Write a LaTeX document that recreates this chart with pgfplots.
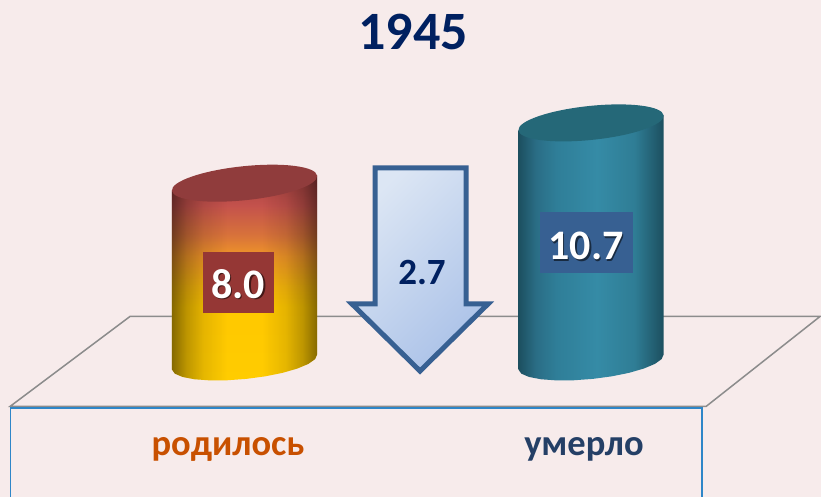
\documentclass[border=0pt]{standalone}
\usepackage{fontspec}
\setmainfont{Carlito}
\usepackage{pgfplots}
\pgfplotsset{compat=1.18}
\usetikzlibrary{fadings}

\definecolor{bgpink}{HTML}{F7EBEB}
\definecolor{navy}{HTML}{002060}
\definecolor{boxred}{HTML}{953735}
\definecolor{boxblue}{HTML}{376092}
\definecolor{lineblue}{HTML}{2E86C8}
\definecolor{linegray}{HTML}{8C8C8C}
\definecolor{rodorange}{HTML}{C85000}
\definecolor{umerblue}{HTML}{243F66}
\definecolor{topred}{HTML}{903C3C}
\definecolor{topteal}{HTML}{256878}
\definecolor{arrowlight}{HTML}{DCE6F4}
\definecolor{arrowdark}{HTML}{ABC2E8}

\definecolor{ly1}{HTML}{FFCC00}
\definecolor{ly2}{HTML}{FFC800}
\definecolor{ly3}{HTML}{F9B80C}
\definecolor{ly4}{HTML}{EF9428}
\definecolor{ly5}{HTML}{D8733A}
\definecolor{ly6}{HTML}{C4524C}
\definecolor{ly7}{HTML}{A34040}
\definecolor{rt1}{HTML}{1C4F5F}
\definecolor{rt2}{HTML}{2A6D85}
\definecolor{rt3}{HTML}{2F7E98}
\definecolor{rt4}{HTML}{358BA6}
\definecolor{rt5}{HTML}{2F7D95}

% 25bp..75bp of these shadings are the bounding box of the filled path
\pgfdeclareverticalshading{leftcyl}{100bp}{
  color(0bp)=(ly1);
  color(25bp)=(ly1);
  color(43bp)=(ly2);
  color(48bp)=(ly3);
  color(55.5bp)=(ly4);
  color(60.4bp)=(ly5);
  color(67.7bp)=(ly6);
  color(75bp)=(ly7);
  color(100bp)=(ly7)}
\pgfdeclarehorizontalshading{rightcyl}{100bp}{
  color(0bp)=(rt1);
  color(25bp)=(rt1);
  color(31bp)=(rt2);
  color(38bp)=(rt3);
  color(52bp)=(rt4);
  color(65bp)=(rt5);
  color(75bp)=(rt1);
  color(100bp)=(rt1)}
\pgfdeclarehorizontalshading{sideshade}{100bp}{
  color(0bp)=(pgftransparent!52);
  color(25bp)=(pgftransparent!52);
  color(30bp)=(pgftransparent!74);
  color(36bp)=(pgftransparent!90);
  color(44bp)=(pgftransparent!100);
  color(56bp)=(pgftransparent!100);
  color(64bp)=(pgftransparent!90);
  color(70bp)=(pgftransparent!74);
  color(75bp)=(pgftransparent!52);
  color(100bp)=(pgftransparent!52)}
\pgfdeclarefading{sidefade}{\pgfuseshading{sideshade}}

\pgfplotstableread{
x y
171.9 7.664
244.5 8.0
317.1 8.336
317.1 0.336
315.1 0.128
308.3 -0.087
297.1 -0.297
282.3 -0.487
265.0 -0.643
246.25 -0.756
227.4 -0.817
209.7 -0.823
194.4 -0.772
182.5 -0.669
174.8 -0.520
171.9 -0.336
}\rodilos
\pgfplotstableread{
x y
518.4 10.364
591.0 10.7
663.6 11.036
663.6 0.336
661.6 0.128
654.8 -0.087
643.6 -0.297
628.8 -0.487
611.5 -0.643
592.75 -0.756
573.9 -0.817
556.2 -0.823
540.9 -0.772
529.0 -0.669
521.3 -0.520
518.4 -0.336
}\umerlo

\begin{document}
\begin{tikzpicture}[x=1pt,y=1pt]
\path[use as bounding box,fill=bgpink] (0,0) rectangle (821,497);

% platform behind the cylinders
\begin{scope}[y=-1pt,yshift=497pt]
  \draw[linegray,line width=1.5pt] (10,406.5) -- (130,316.5) -- (820,316.5) -- (706,406.5) -- cycle;
  \draw[lineblue,line width=1.2pt] (10.5,497) -- (10.5,408) -- (702,408) -- (702,497);
\end{scope}

\begin{axis}[
    at={(0,0)},anchor=south west,
    width=821pt,height=497pt,
    scale only axis,
    hide axis,
    xmin=0,xmax=821,
    ymin=-6.040,ymax=16.197,
]
\addplot[draw=none,shade,shading=leftcyl] table {\rodilos};
\addplot[draw=none,fill=black,path fading=sidefade] table {\rodilos};
\addplot[draw=none,shade,shading=rightcyl] table {\umerlo};
\end{axis}

\begin{scope}[y=-1pt,yshift=497pt]
  % cylinder tops
  \fill[topred,rotate around={5.9:(244.5,183.2)}] (244.5,183.2) ellipse [x radius=73,y radius=17];
  \fill[topteal,rotate around={5.9:(591,122.9)}] (591,122.9) ellipse [x radius=73,y radius=17];

  % value boxes
  \fill[boxred] (203,252) rectangle (274,313);
  \fill[boxblue] (540,212) rectangle (633,273);
  \node[black,opacity=.55,font=\bfseries\fontsize{42}{42}\selectfont] at (239.5,285.5) {8.0};
  \node[white,font=\bfseries\fontsize{42}{42}\selectfont] at (238,284) {8.0};
  \node[black,opacity=.55,font=\bfseries\fontsize{42}{42}\selectfont] at (587.5,247.5) {10.7};
  \node[white,font=\bfseries\fontsize{42}{42}\selectfont] at (586,246) {10.7};

  % difference arrow
  \draw[boxblue,line width=5pt,miter limit=10,top color=arrowlight,bottom color=arrowdark,shading angle=45]
    (375,168) -- (466,168) -- (466,304) -- (488,304) -- (420,371) -- (352,304) -- (375,304) -- cycle;
  \node[navy,font=\bfseries\fontsize{37}{37}\selectfont] at (422,273) {2.7};

  % title and category names
  \node[navy,font=\bfseries\fontsize{54}{54}\selectfont] at (413,32) {1945};
  \node[rodorange,font=\bfseries\fontsize{36.5}{36.5}\selectfont] at (228,449) {родилось};
  \node[umerblue,font=\bfseries\fontsize{36.5}{36.5}\selectfont] at (584,449) {умерло};
\end{scope}
\end{tikzpicture}
\end{document}
